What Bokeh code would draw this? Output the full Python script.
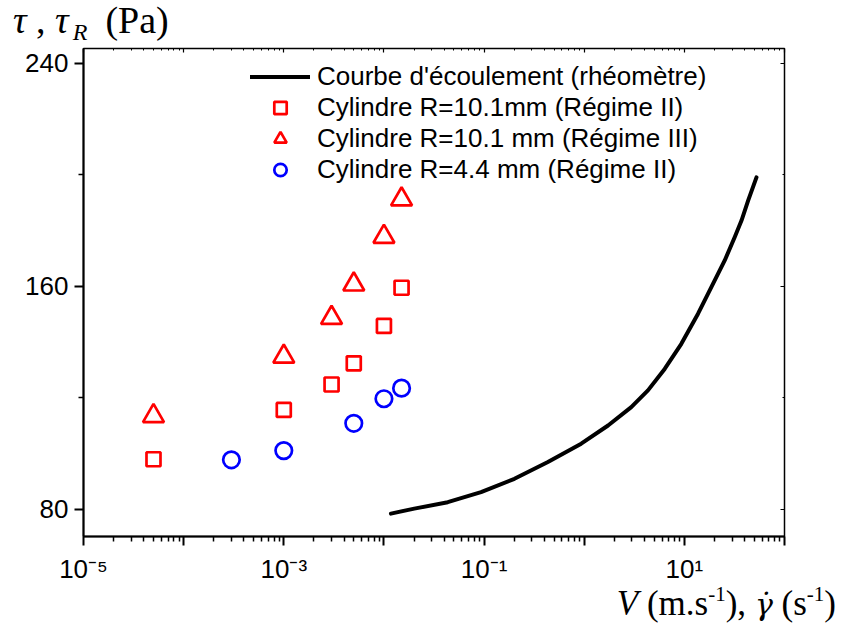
from bokeh.plotting import figure
from bokeh.models import (Range1d, LogAxis, LinearAxis, FixedTicker, CustomJSTickFormatter,
                          Legend, LegendItem, Div)
from bokeh.layouts import column
from bokeh.embed import file_html
from bokeh.resources import INLINE

# ---- data ----
flow_rate = [0.01175, 0.0201, 0.0434, 0.0933, 0.201, 0.434, 0.933, 1.73, 2.95, 4.33,
             6.36, 9.33, 13.7, 18.6, 25.3, 31.8, 37.2, 43.4, 52.5]
flow_stress = [78.5, 80.3, 82.6, 86.2, 91.0, 97.0, 103.6, 110.1, 116.7, 122.7,
               130.4, 139.4, 150.2, 159.7, 169.3, 177.6, 183.6, 190.8, 199.1]

cyl101_II_v = [5e-5, 1e-3, 3e-3, 5e-3, 1e-2, 1.5e-2]
cyl101_II_tau = [98.0, 115.7, 124.8, 132.4, 145.8, 159.5]

cyl101_III_v = [5e-5, 1e-3, 3e-3, 5e-3, 1e-2, 1.5e-2]
cyl101_III_tau = [113.5, 134.8, 148.7, 160.7, 177.8, 191.2]

cyl44_II_v = [3e-4, 1e-3, 5e-3, 1e-2, 1.5e-2]
cyl44_II_tau = [97.8, 101.1, 110.9, 119.7, 123.5]

series_labels = ["Courbe d'écoulement (rhéomètre)",
                 "Cylindre R=10.1mm (Régime II)",
                 "Cylindre R=10.1 mm (Régime III)",
                 "Cylindre R=4.4 mm (Régime II)"]

x_major_ticks = [1e-5, 1e-4, 1e-3, 1e-2, 1e-1, 1e0, 1e1, 1e2]
x_tick_labels = ["10⁻⁵", "", "10⁻³", "", "10⁻¹", "", "10¹", ""]
x_minor_ticks = [m * d for d in x_major_ticks[:-1] for m in range(2, 10)]
y_major_ticks = [80, 160, 240]
y_minor_ticks = [120, 200]

# ---- figure ----
p = figure(width=840, height=550, x_axis_type="log",
           x_range=Range1d(1e-5, 1e2), y_range=Range1d(70.3, 245.3),
           output_backend="svg", toolbar_location=None,
           min_border_left=83, min_border_top=8, min_border_right=56, min_border_bottom=54)
p.outline_line_color = "black"
p.outline_line_width = 1.5
p.xgrid.visible = False
p.ygrid.visible = False
p.background_fill_color = "white"
p.border_fill_color = "white"

xt = FixedTicker(ticks=x_major_ticks, minor_ticks=x_minor_ticks)
yt = FixedTicker(ticks=y_major_ticks, minor_ticks=y_minor_ticks)

xfmt = CustomJSTickFormatter(args=dict(majors=x_major_ticks, labs=x_tick_labels), code="""
let best = 0, bd = Infinity;
for (let i = 0; i < majors.length; i++) {
  const d = Math.abs(Math.log10(tick) - Math.log10(majors[i]));
  if (d < bd) { bd = d; best = i; }
}
return labs[best];
""")
blank = CustomJSTickFormatter(code="return '';")

def style_main(ax):
    ax.axis_line_width = 2
    ax.axis_line_color = "black"
    ax.major_tick_line_width = 2
    ax.minor_tick_line_width = 1.5
    ax.major_tick_out = 9
    ax.major_tick_in = 0
    ax.minor_tick_out = 5
    ax.minor_tick_in = 0
    ax.major_label_text_font = "Liberation Sans"
    ax.major_label_text_font_size = "26px"
    ax.major_label_text_color = "black"

bx = p.xaxis[0]
bx.ticker = xt
bx.formatter = xfmt
style_main(bx)
bx.major_label_standoff = 8

ly = p.yaxis[0]
ly.ticker = yt
style_main(ly)
ly.major_label_standoff = 6

def style_mirror(ax):
    ax.axis_line_color = None
    ax.major_tick_line_width = 1.2
    ax.minor_tick_line_width = 1
    ax.major_tick_out = 0
    ax.major_tick_in = 4
    ax.minor_tick_out = 0
    ax.minor_tick_in = 2
    ax.formatter = blank
    ax.major_label_text_font_size = "0px"
    ax.major_label_standoff = 0

top = LogAxis(ticker=xt)
style_mirror(top)
p.add_layout(top, "above")
right = LinearAxis(ticker=yt)
style_mirror(right)
p.add_layout(right, "right")

# ---- data renderers ----
r_line = p.line(flow_rate, flow_stress, line_color="black", line_width=4,
                line_cap="round", line_join="round")
r_sq = p.scatter(cyl101_II_v, cyl101_II_tau, marker="square", size=14,
                 line_color="#ff0000", fill_color=None, line_width=2.7)
r_tri = p.scatter(cyl101_III_v, cyl101_III_tau, marker="triangle", size=21,
                  line_color="#ff0000", fill_color=None, line_width=2.7)
r_circ = p.scatter(cyl44_II_v, cyl44_II_tau, marker="circle", size=16.5,
                   line_color="#0000ff", fill_color=None, line_width=2.7)

legend = Legend(items=[LegendItem(label=series_labels[0], renderers=[r_line]),
                       LegendItem(label=series_labels[1], renderers=[r_sq]),
                       LegendItem(label=series_labels[2], renderers=[r_tri]),
                       LegendItem(label=series_labels[3], renderers=[r_circ])],
                location=(167, 351), glyph_width=60, glyph_height=31, label_height=31,
                spacing=0, padding=0, margin=0, label_standoff=7,
                label_text_font="Liberation Sans", label_text_font_size="26px",
                label_text_color="black", label_text_baseline="middle",
                background_fill_alpha=0, border_line_color=None)
p.add_layout(legend)

# ---- axis titles as real (HTML) text around the figure ----
sup = '<span style="font-size:21px; vertical-align:14px; line-height:0;">-1</span>'
gamma_dot = ('<i style="font-family:\'DejaVu Serif\'; font-size:30px;">γ&#775;</i>')
y_title = ('<div style="font-family:\'Liberation Serif\'; font-size:38px; line-height:35px; '
           'padding-top:3px; padding-left:13px; white-space:nowrap; color:black;">'
           '<i>τ</i> , <i>τ</i><span style="font-size:24px; vertical-align:-7px; line-height:0; '
           'margin-left:4px;"><i>R</i></span>'
           '<span style="margin-left:18px;">(Pa)</span></div>')
x_title = ('<div style="font-family:\'Liberation Serif\'; font-size:35px; line-height:27px; '
           'width:836px; text-align:right; white-space:nowrap; color:black;">'
           '<i>V</i> (m.s' + sup + '), ' + gamma_dot + ' (s' + sup + ')</div>')

top_div = Div(text=y_title, width=840, height=40, margin=0)
bottom_div = Div(text=x_title, width=840, height=40, margin=0)

layout = column(top_div, p, bottom_div, spacing=0)

open("out.html", "w").write(file_html(layout, INLINE))
